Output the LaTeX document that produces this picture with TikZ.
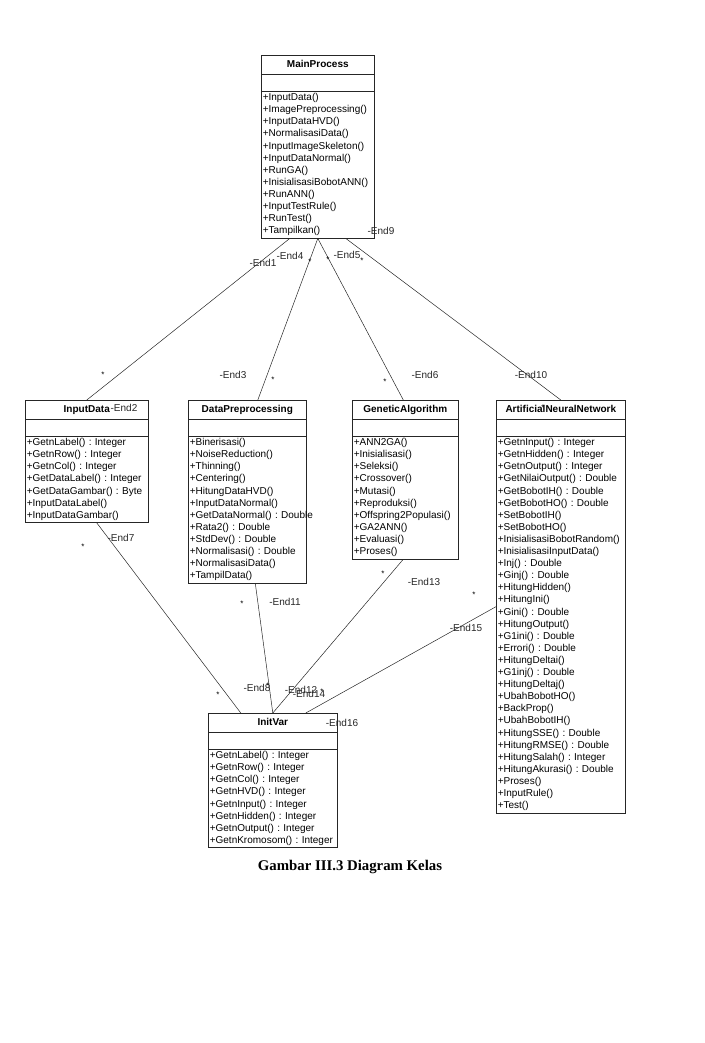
\documentclass[tikz,border=0pt]{standalone}
\usepackage{fontspec}
\setmainfont{Liberation Sans}
\newfontfamily\capfont{Liberation Serif}
\frenchspacing
\usetikzlibrary{shapes.multipart}
\tikzset{
  cls/.style={draw=black!85, fill=white, line width=0.6pt, rectangle split, rectangle split parts=3,
    anchor=north west, align=left, inner xsep=1.5pt, inner ysep=2pt, font=\fontsize{10}{12.1}\selectfont},
  assoc/.style={draw=black!85, line width=0.5pt},
  role/.style={inner sep=0pt, font=\fontsize{10}{12}\selectfont, text=black!85},
  star/.style={inner sep=0pt, font=\fontsize{8}{8}\selectfont}
}
\newcommand{\clsname}[1]{\hbox to \hsize{\hfil\rule[-4.3pt]{0pt}{14.5pt}\textbf{#1}\hfil}}
\begin{document}
\begin{tikzpicture}[x=1pt,y=-1pt]
\useasboundingbox (0,0) rectangle (704,1043);
\node[cls, text width=110pt] (main) at (261,55) {\clsname{MainProcess}\nodepart{two}\strut\nodepart{three}+InputData()\\+ImagePreprocessing()\\+InputDataHVD()\\+NormalisasiData()\\+InputImageSkeleton()\\+InputDataNormal()\\+RunGA()\\+InisialisasiBobotANN()\\+RunANN()\\+InputTestRule()\\+RunTest()\\+Tampilkan()};
\node[cls, text width=120pt] (inp) at (25,400) {\clsname{InputData}\nodepart{two}\strut\nodepart{three}+GetnLabel() : Integer\\+GetnRow() : Integer\\+GetnCol() : Integer\\+GetDataLabel() : Integer\\+GetDataGambar() : Byte\\+InputDataLabel()\\+InputDataGambar()};
\node[cls, text width=115pt] (prep) at (188,400) {\clsname{DataPreprocessing}\nodepart{two}\strut\nodepart{three}+Binerisasi()\\+NoiseReduction()\\+Thinning()\\+Centering()\\+HitungDataHVD()\\+InputDataNormal()\\\mbox{+GetDataNormal() : Double}\\+Rata2() : Double\\+StdDev() : Double\\+Normalisasi() : Double\\+NormalisasiData()\\+TampilData()};
\node[cls, text width=103pt] (ga) at (352,400) {\clsname{GeneticAlgorithm}\nodepart{two}\strut\nodepart{three}+ANN2GA()\\+Inisialisasi()\\+Seleksi()\\+Crossover()\\+Mutasi()\\+Reproduksi()\\+Offspring2Populasi()\\+GA2ANN()\\+Evaluasi()\\+Proses()};
\node[cls, text width=126pt] (ann) at (496,400) {\clsname{ArtificialNeuralNetwork}\nodepart{two}\strut\nodepart{three}+GetnInput() : Integer\\+GetnHidden() : Integer\\+GetnOutput() : Integer\\+GetNilaiOutput() : Double\\+GetBobotIH() : Double\\+GetBobotHO() : Double\\+SetBobotIH()\\+SetBobotHO()\\+InisialisasiBobotRandom()\\+InisialisasiInputData()\\+Inj() : Double\\+Ginj() : Double\\+HitungHidden()\\+HitungIni()\\+Gini() : Double\\+HitungOutput()\\+G1ini() : Double\\+Errori() : Double\\+HitungDeltai()\\+G1inj() : Double\\+HitungDeltaj()\\+UbahBobotHO()\\+BackProp()\\+UbahBobotIH()\\+HitungSSE() : Double\\+HitungRMSE() : Double\\+HitungSalah() : Integer\\+HitungAkurasi() : Double\\+Proses()\\+InputRule()\\+Test()};
\node[cls, text width=126pt] (var) at (208,713) {\clsname{InitVar}\nodepart{two}\strut\nodepart{three}+GetnLabel() : Integer\\+GetnRow() : Integer\\+GetnCol() : Integer\\+GetnHVD() : Integer\\+GetnInput() : Integer\\+GetnHidden() : Integer\\+GetnOutput() : Integer\\+GetnKromosom() : Integer};

\draw[assoc] ([xshift=-28pt]main.south) -- (inp.north);
\draw[assoc] (main.south) -- ([xshift=10.5pt]prep.north);
\draw[assoc] (main.south) -- ([xshift=-2pt]ga.north);
\draw[assoc] ([xshift=28pt]main.south) -- (ann.north);
\draw[assoc] ([xshift=10pt]inp.south) -- ([xshift=-32pt]var.north);
\draw[assoc] ([xshift=8pt]prep.south) -- (var.north);
\draw[assoc] ([xshift=-2pt]ga.south) -- (var.north);
\draw[assoc] (ann.west) -- ([xshift=33pt]var.north);

\node[role] (e1) at (263,263) {-End1};
\node[role] (e4) at (290,256) {-End4};
\node[role] (e5) at (347,255) {-End5};
\node[role] (e9) at (381,231) {-End9};
\node[role] (e2) at (124,408) {-End2};
\node[role] (e3) at (233,375) {-End3};
\node[role] (e6) at (425,375) {-End6};
\node[role] (e10) at (531,375) {-End10};
\node[role] (e7) at (121,538) {-End7};
\node[role] (e11) at (285,602) {-End11};
\node[role] (e13) at (424,582) {-End13};
\node[role] (e15) at (466,628) {-End15};
\node[role] (e8) at (257,688) {-End8};
\node[role] (e12) at (301,690) {-End12};
\node[role] (e14) at (309,694) {-End14};
\node[role] (e16) at (342,723) {-End16};

\node[star] (s1) at (310,262) {*};
\node[star] (s2) at (328,260) {*};
\node[star] (s3) at (362,261) {*};
\node[star] (s4) at (103,375) {*};
\node[star] (s5) at (273,380) {*};
\node[star] (s6) at (385,382) {*};
\node[star] (s7) at (543,408) {*};
\node[star] (s8) at (83,547) {*};
\node[star] (s9) at (242,604) {*};
\node[star] (s10) at (383,574) {*};
\node[star] (s11) at (474,595) {*};
\node[star] (s12) at (218,695) {*};
\node[star] (s13) at (268,686) {*};
\node[star] (s14) at (322,692) {*};

\node[font=\capfont\bfseries\fontsize{14.8}{16}\selectfont] (cap) at (350,867) {Gambar III.3 Diagram Kelas};
\end{tikzpicture}
\end{document}
